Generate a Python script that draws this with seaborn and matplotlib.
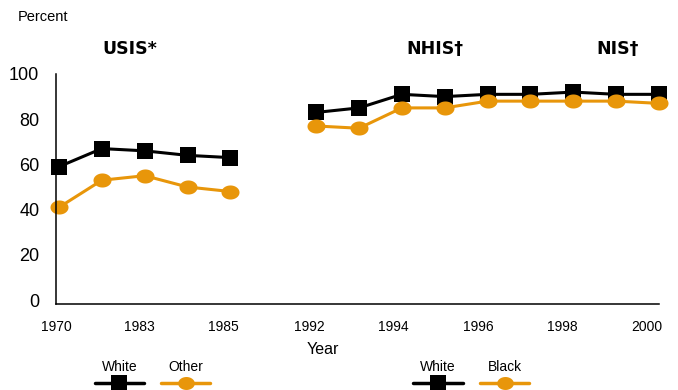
import numpy as np
import pandas as pd
import matplotlib
matplotlib.use("Agg")
import matplotlib.pyplot as plt
from matplotlib.lines import Line2D
from matplotlib.path import Path
import seaborn as sns

# ---- data ----
tick_labels = ["1970", "1983", "1985", "1992", "1994", "1996", "1998", "2000"]
usis_slots = [0, 1, 2, 3, 4]
nhis_slots = [6, 7, 8, 9, 10, 11, 12, 13, 14]
usis_white = [59, 67, 66, 64, 63]
usis_other = [41, 53, 55, 50, 48]
nhis_white = [83, 85, 91, 90, 91, 91, 92, 91, 91]
nhis_black = [77, 76, 85, 85, 88, 88, 88, 88, 87]
section_titles = ["USIS*", "NHIS\u2020", "NIS\u2020"]

BLACK = "#000000"
ORANGE = "#E8960A"

sns.set_theme(style="white")
plt.rcParams["font.family"] = ["Liberation Sans", "DejaVu Sans"]
plt.rcParams["text.color"] = "#000000"
plt.rcParams["axes.labelcolor"] = "#000000"
plt.rcParams["xtick.color"] = "#000000"
plt.rcParams["ytick.color"] = "#000000"

fig = plt.figure(figsize=(6.78, 3.90), dpi=100)
W, H = 678, 390
ax = fig.add_axes([56 / W, 1 - 304.3 / H, (659 - 56) / W, (304.3 - 74) / H])

df = pd.concat([
    pd.DataFrame({"slot": usis_slots, "value": usis_white, "series": "w1"}),
    pd.DataFrame({"slot": usis_slots, "value": usis_other, "series": "o1"}),
    pd.DataFrame({"slot": nhis_slots, "value": nhis_white, "series": "w2"}),
    pd.DataFrame({"slot": nhis_slots, "value": nhis_black, "series": "o2"}),
], ignore_index=True)

# squashed ellipse marker
t = np.linspace(0, 2 * np.pi, 40)
ell = Path(np.column_stack([np.cos(t), 0.78 * np.sin(t)]), closed=True)

for name, color, marker, ms in [("w1", BLACK, "s", 11), ("w2", BLACK, "s", 11),
                                ("o1", ORANGE, ell, 13), ("o2", ORANGE, ell, 13)]:
    sub = df[df["series"] == name]
    sns.lineplot(data=sub, x="slot", y="value", ax=ax, color=color, lw=2.2,
                 marker=marker, markersize=ms, markeredgewidth=0,
                 markeredgecolor=color, legend=False, sort=False)
for ln in ax.lines:
    ln.set_clip_on(False)

ax.set_xlim(-0.03, 14.0)
ax.set_ylim(-1.9, 100)
ax.set_yticks([0, 20, 40, 60, 80, 100])
ax.set_yticklabels(["0", "20", "40", "60", "80", "100"], fontsize=13)
tick_pos = [-0.07, 1.88, 3.84, 5.84, 7.79, 9.79, 11.74, 13.72]
ax.set_xticks(tick_pos)
ax.set_xticklabels(tick_labels, fontsize=10)
ax.tick_params(axis="both", length=0, colors="#000000")
ax.tick_params(axis="x", pad=11)
ax.tick_params(axis="y", pad=12)
ax.set_xlabel("")
ax.set_ylabel("")
for s in ["top", "right"]:
    ax.spines[s].set_visible(False)
for s in ["left", "bottom"]:
    ax.spines[s].set_color(BLACK)
    ax.spines[s].set_linewidth(1.1)
ax.grid(False)

# texts
fig.text(43 / W, 1 - 17 / H, "Percent", ha="center", va="center", fontsize=10.5)
fig.text(323 / W, 1 - 350 / H, "Year", ha="center", va="center", fontsize=11.5)
for title, xc in zip(section_titles, [130, 435, 618]):
    fig.text(xc / W, 1 - 49 / H, title, ha="center", va="center", fontsize=12.5,
             fontweight="bold", family=["DejaVu Sans"])

# custom legends
leg_items = [("White", BLACK, "s", 95, 144), ("Other", ORANGE, ell, 161, 210),
             ("White", BLACK, "s", 413, 463), ("Black", ORANGE, ell, 480, 529)]
for label, color, marker, x0, x1 in leg_items:
    y = 1 - 382.7 / H
    fig.add_artist(Line2D([x0 / W, x1 / W], [y, y], transform=fig.transFigure,
                          color=color, lw=2.5))
    fig.add_artist(Line2D([(x0 + x1) / 2 / W], [y], transform=fig.transFigure,
                          color=color, marker=marker,
                          markersize=11 if marker == "s" else 12,
                          markeredgewidth=0, linestyle="none"))
    fig.text((x0 + x1) / 2 / W, 1 - 366.7 / H, label, ha="center", va="center",
             fontsize=10)

fig.savefig("out.png", dpi=100)
